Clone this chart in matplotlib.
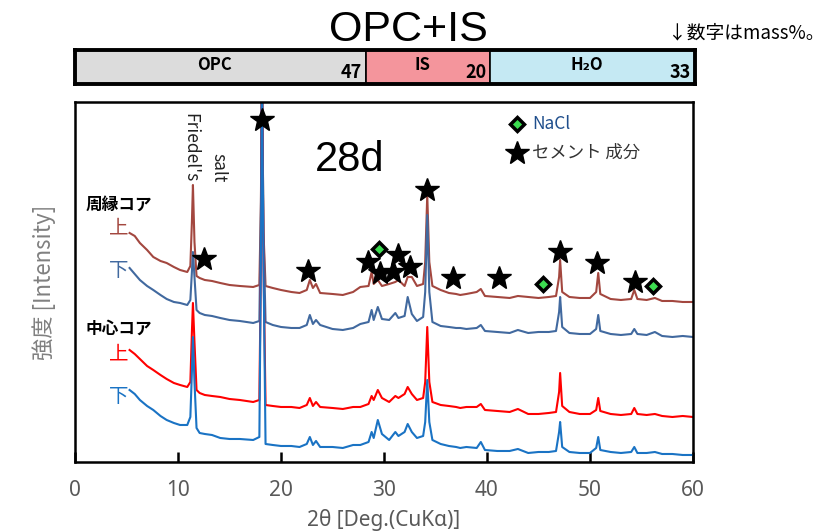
import matplotlib
matplotlib.use("Agg")
import matplotlib.pyplot as plt

plt.rcParams['font.family'] = ['Noto Sans CJK JP', 'DejaVu Sans']

# ======================================
# データ
# ======================================
two_theta = [5.3, 5.8, 6.3, 7.0, 7.6, 8.3, 8.9, 9.6, 10.2, 10.9,
             11.2, 11.35, 11.45, 11.6, 11.8, 12.1, 12.6, 13.3, 14.1, 15.0,
             16.0, 17.3, 17.9, 18.05, 18.15, 18.3, 18.5, 19.2, 20.0, 21.0,
             21.8, 22.5, 22.8, 23.1, 23.4, 23.8, 25.0, 26.0, 27.0, 27.7,
             28.5, 28.8, 29.0, 29.4, 29.8, 30.5, 31.1, 31.4, 32.0, 32.3,
             32.7, 33.2, 33.8, 34.0, 34.2, 34.4, 34.7, 35.5, 36.3, 37.0,
             37.4, 38.0, 39.0, 39.4, 39.8, 41.0, 42.2, 43.0, 44.0, 45.0,
             46.0, 46.7, 47.0, 47.1, 47.3, 48.0, 49.0, 50.0, 50.6, 50.8,
             51.0, 52.0, 53.0, 54.0, 54.3, 54.6, 55.5, 56.3, 57.0, 58.0,
             59.0, 60.0]

# 周縁コア 上
peri_top = [229, 226, 219, 212, 205, 201, 199, 195, 192, 190,
            196, 240, 277, 220, 186, 184, 182, 181, 179, 177,
            176, 175, 177, 260, 400, 230, 176, 174, 172, 170,
            169, 172, 182, 174, 178, 169, 168, 167, 170, 175,
            176, 190, 178, 182, 176, 178, 180, 182, 176, 185,
            185, 176, 178, 200, 267, 200, 176, 172, 169, 168,
            167, 168, 170, 173, 166, 165, 164, 166, 165, 164,
            165, 166, 185, 202, 170, 165, 164, 164, 170, 189,
            168, 163, 162, 163, 172, 163, 162, 164, 161, 161,
            160, 160]
# 周縁コア 下
peri_bot = [194, 188, 182, 176, 172, 167, 163, 160, 159, 157,
            162, 190, 210, 185, 152, 149, 147, 146, 144, 142,
            141, 139, 141, 250, 400, 230, 140, 137, 135, 134,
            134, 137, 147, 138, 142, 137, 133, 132, 134, 138,
            140, 152, 142, 155, 143, 142, 149, 144, 146, 165,
            148, 141, 145, 170, 247, 170, 140, 136, 135, 134,
            134, 133, 134, 137, 131, 130, 129, 132, 129, 130,
            130, 131, 150, 165, 135, 129, 128, 128, 133, 147,
            131, 128, 127, 128, 133, 128, 127, 130, 126, 125,
            126, 125]
# 中心コア 上
cent_top = [112, 108, 103, 96, 92, 87, 83, 79, 77, 75,
            80, 130, 159, 120, 72, 69, 67, 66, 65, 63,
            62, 60, 62, 200, 400, 200, 57, 56, 55, 55,
            54, 57, 64, 56, 60, 55, 54, 53, 55, 55,
            58, 66, 62, 72, 64, 60, 66, 64, 68, 75,
            68, 62, 64, 80, 135, 80, 60, 57, 56, 55,
            54, 55, 55, 58, 52, 51, 50, 53, 48, 48,
            49, 50, 70, 89, 56, 50, 48, 48, 52, 64,
            51, 48, 47, 48, 54, 48, 47, 48, 46, 45,
            46, 45]
# 中心コア 下
cent_bot = [72, 68, 62, 56, 52, 46, 42, 39, 37, 37,
            45, 90, 125, 80, 34, 29, 28, 27, 24, 23,
            23, 22, 25, 200, 400, 200, 18, 17, 16, 16,
            15, 18, 25, 17, 21, 15, 15, 14, 17, 17,
            20, 30, 24, 42, 28, 22, 30, 26, 30, 38,
            30, 24, 26, 40, 82, 40, 22, 18, 16, 15,
            14, 15, 14, 20, 12, 11, 11, 13, 9, 10,
            10, 11, 30, 40, 15, 10, 9, 9, 14, 25,
            12, 10, 9, 10, 15, 9, 9, 10, 8, 8,
            7, 7]

# ピーク記号
star_x = [18.16, 12.52, 22.62, 28.45, 29.61, 30.87, 31.36, 32.52, 34.17, 36.70, 41.17, 47.09, 50.68, 54.37]
star_y = [342, 203, 191, 200, 189, 190, 207, 195, 272, 184, 184, 210, 199, 180]
nacl_x = [29.51, 45.44, 56.12]
nacl_y = [213, 178, 176]

# 配合（mass%）
mix_names = ["OPC", "IS", "H₂O"]
mix_values = [47, 20, 33]
mix_colors = ["#DCDCDC", "#F4959C", "#C5E9F3"]

# ======================================
# 図
# ======================================
fig = plt.figure(figsize=(8.25, 5.32), dpi=100)
ax = fig.add_axes([0.0909, 0.1316, 0.7491, 0.6767])

ax.plot(two_theta, peri_top, color="#A3473F", lw=1.5)
ax.plot(two_theta, peri_bot, color="#41699F", lw=1.5)
ax.plot(two_theta, cent_top, color="#FF0000", lw=1.5)
ax.plot(two_theta, cent_bot, color="#1A73C4", lw=1.5)

ax.plot(star_x, star_y, ls="none", marker="*", ms=18, color="black", zorder=5)
ax.plot(nacl_x, nacl_y, ls="none", marker="D", ms=7, mfc="#3CDC50", mec="black", mew=2.5, zorder=5)

# 凡例
ax.plot([42.9], [338], marker="D", ms=7, mfc="#3CDC50", mec="black", mew=2.5, clip_on=False)
ax.text(44.4, 338, "NaCl", fontsize=12.5, color="#1F4E8C", va="center")
ax.plot([42.9], [309], marker="*", ms=18, color="black", clip_on=False)
ax.text(44.4, 309, "セメント 成分", fontsize=12.5, color="#333333", va="center")

ax.text(26.7, 302, "28d", fontsize=30, family="Liberation Sans", ha="center", va="center")

ax.text(11.2, 280, "Friedel's", rotation=270, fontsize=12.5, color="#222222", ha="center", va="bottom")
ax.text(13.9, 280, "salt", rotation=270, fontsize=12.5, color="#222222", ha="center", va="bottom")

ax.text(1.0, 257, "周縁コア", fontsize=12, fontweight="bold", va="center")
ax.text(4.2, 234, "上", fontsize=14, color="#A3473F", ha="center", va="center")
ax.text(4.2, 191, "下", fontsize=14, color="#41699F", ha="center", va="center")
ax.text(1.0, 133, "中心コア", fontsize=12, fontweight="bold", va="center")
ax.text(4.2, 108, "上", fontsize=14, color="#FF0000", ha="center", va="center")
ax.text(4.2, 65, "下", fontsize=14, color="#1A73C4", ha="center", va="center")

ax.set_xlim(0, 60)
ax.set_ylim(0, 360)
ax.set_xticks(range(0, 61, 10))
ax.set_yticks([])
ax.tick_params(axis="x", direction="in", length=7, width=1.8, pad=13,
               labelsize=15, labelcolor="#595959")
for lab in ax.get_xticklabels():
    lab.set_family("Noto Sans")
for sp in ax.spines.values():
    sp.set_linewidth(1.8)
ax.set_xlabel("2θ [Deg.(CuKα)]", fontsize=15, color="#595959", labelpad=6, family="Noto Sans")
ax.set_ylabel("強度 [Intensity]", fontsize=16, color="#808080", labelpad=14)

# ======================================
# 配合バー
# ======================================
bx = fig.add_axes([0.0909, 0.8421, 0.7515, 0.0639])
left = 0
for name, v, c in zip(mix_names, mix_values, mix_colors):
    bx.barh(0, v, left=left, height=1, color=c, edgecolor="black", lw=1.2)
    bx.text(left + v / 2 - 1, 0.05, name, fontsize=12, fontweight="bold", ha="center", va="center")
    bx.text(left + v - 0.7, -0.45, str(v), fontsize=13, fontweight="bold", ha="right", va="bottom")
    left += v
bx.set_xlim(0, 100)
bx.set_ylim(-0.5, 0.5)
bx.set_xticks([])
bx.set_yticks([])
for sp in bx.spines.values():
    sp.set_linewidth(2.8)

fig.text(0.4945, 0.9436, "OPC+IS", fontsize=31, family="Liberation Sans", ha="center", va="center")
fig.text(0.8097, 0.938, "↓数字はmass%。", fontsize=13.5, ha="left", va="center")

fig.savefig("out.png", dpi=100)
